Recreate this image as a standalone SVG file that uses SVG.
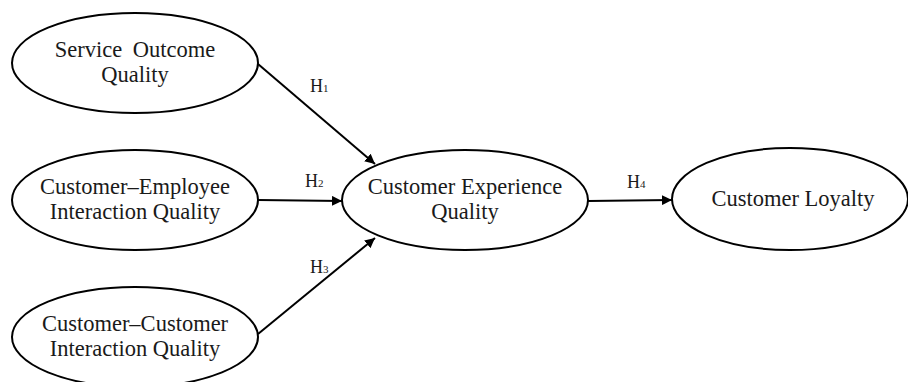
<svg xmlns="http://www.w3.org/2000/svg" width="908" height="382" viewBox="0 0 908 382">
  <style>
    .node ellipse { fill: #ffffff; stroke: #000000; stroke-width: 2; }
    .node text { font-family: "Liberation Serif", "Times New Roman", serif; font-size: 22.5px; fill: #1a1a1a; text-anchor: middle; }
    .edge { stroke: #000000; stroke-width: 2; fill: none; marker-end: url(#arrow); }
    .lbl { font-family: "Liberation Serif", "Times New Roman", serif; font-size: 18px; fill: #1a1a1a; }
    .sub { font-size: 11px; }
  </style>
  <defs>
    <marker id="arrow" viewBox="0 0 10 10" refX="10" refY="5" markerWidth="10" markerHeight="10" markerUnits="userSpaceOnUse" orient="auto">
      <path d="M0,0 L10,5 L0,10 Z" fill="#000000"/>
    </marker>
  </defs>
  <rect width="908" height="382" fill="#ffffff"/>

  <g id="connectors">
    <line class="edge" x1="258" y1="64" x2="375" y2="164"/>
    <line class="edge" x1="258" y1="200" x2="342" y2="201"/>
    <line class="edge" x1="258" y1="334" x2="375" y2="238"/>
    <line class="edge" x1="588" y1="201" x2="672" y2="200"/>
    <text class="lbl" x="310" y="92">H<tspan class="sub">1</tspan></text>
    <text class="lbl" x="305" y="187">H<tspan class="sub">2</tspan></text>
    <text class="lbl" x="310" y="273">H<tspan class="sub">3</tspan></text>
    <text class="lbl" x="627" y="188">H<tspan class="sub">4</tspan></text>
  </g>

  <g id="service-outcome" class="node">
    <ellipse cx="135" cy="63" rx="123" ry="50"/>
    <text x="135" y="57" word-spacing="5">Service Outcome</text>
    <text x="135" y="82">Quality</text>
  </g>

  <g id="customer-employee" class="node">
    <ellipse cx="135" cy="200" rx="123" ry="50"/>
    <text x="135" y="194">Customer–Employee</text>
    <text x="135" y="219">Interaction Quality</text>
  </g>

  <g id="customer-customer" class="node">
    <ellipse cx="135" cy="337" rx="123" ry="50"/>
    <text x="135" y="331">Customer–Customer</text>
    <text x="135" y="356">Interaction Quality</text>
  </g>

  <g id="experience" class="node">
    <ellipse cx="465" cy="200" rx="123" ry="50"/>
    <text x="465" y="194">Customer Experience</text>
    <text x="465" y="219">Quality</text>
  </g>

  <g id="loyalty" class="node">
    <ellipse cx="790" cy="199" rx="118" ry="51"/>
    <text x="793" y="206">Customer Loyalty</text>
  </g>
</svg>
